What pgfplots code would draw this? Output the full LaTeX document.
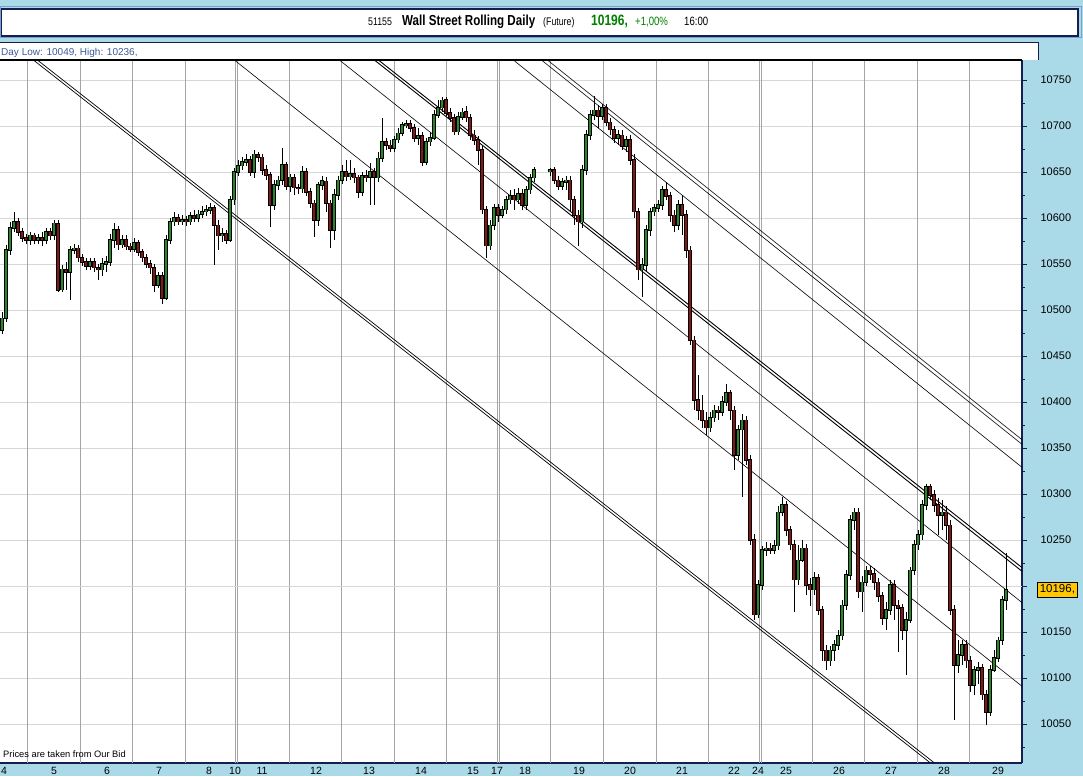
\documentclass[border=0pt]{standalone}
\usepackage{fontspec}
\setmainfont{Liberation Sans}
\newfontfamily\narrow[FakeStretch=0.8]{Liberation Sans}
\usepackage{pgfplots}
\usepackage{pgfplotstable}
\pgfplotsset{compat=1.18}

\definecolor{bgblue}{RGB}{170,218,232}
\definecolor{navy}{RGB}{20,30,80}
\definecolor{frameblue}{RGB}{120,160,200}
\definecolor{upgreen}{RGB}{40,135,40}
\definecolor{dnred}{RGB}{135,22,22}
\definecolor{gridv}{RGB}{165,165,165}
\definecolor{gridh}{RGB}{215,215,215}
\definecolor{pricegreen}{RGB}{0,128,0}
\definecolor{boxorange}{RGB}{255,200,0}
\definecolor{daylow}{RGB}{60,90,150}

% x = position along the time axis (px), o h l c = open high low close
\pgfplotstableread{
x o h l c
2 10478 10498 10474 10491
6 10491 10571 10487 10565
10 10565 10596 10560 10589
14 10589 10607 10585 10596
30 10576 10585 10571 10581
38 10576 10583 10572 10578
46 10576 10589 10572 10585
54 10581 10598 10576 10594
62 10522 10549 10520 10544
70 10541 10570 10511 10565
74 10565 10572 10561 10567
90 10548 10557 10544 10552
102 10544 10557 10537 10550
106 10550 10559 10541 10552
110 10552 10583 10548 10576
114 10576 10595 10567 10587
122 10571 10582 10567 10576
134 10566 10578 10563 10573
158 10527 10541 10524 10537
166 10513 10581 10511 10576
170 10576 10600 10572 10596
174 10596 10607 10591 10600
182 10596 10603 10592 10598
190 10596 10607 10592 10602
198 10600 10609 10596 10604
202 10604 10613 10600 10607
206 10607 10614 10602 10609
210 10609 10616 10604 10611
222 10581 10589 10574 10583
230 10576 10624 10574 10620
234 10620 10654 10614 10650
238 10650 10663 10646 10657
242 10657 10666 10652 10661
246 10661 10669 10657 10663
254 10650 10674 10644 10669
274 10614 10641 10609 10636
278 10636 10646 10631 10641
282 10641 10676 10636 10658
290 10635 10648 10628 10644
302 10632 10657 10627 10650
318 10598 10639 10591 10636
322 10636 10646 10631 10640
334 10587 10631 10576 10625
338 10625 10646 10620 10641
342 10641 10658 10637 10650
350 10645 10663 10641 10648
362 10628 10650 10624 10646
370 10644 10660 10614 10650
378 10644 10672 10639 10665
382 10665 10709 10661 10683
394 10676 10689 10672 10685
398 10685 10698 10682 10692
402 10692 10704 10689 10701
406 10701 10707 10698 10702
418 10687 10698 10679 10689
426 10661 10687 10658 10683
430 10683 10694 10678 10687
434 10687 10717 10685 10712
438 10712 10728 10709 10720
442 10720 10732 10715 10728
458 10694 10715 10690 10710
462 10710 10720 10707 10715
490 10570 10598 10565 10592
494 10592 10615 10587 10611
502 10603 10613 10600 10609
506 10609 10624 10604 10620
510 10620 10631 10615 10624
518 10620 10633 10615 10626
526 10614 10635 10609 10631
530 10631 10648 10626 10644
534 10644 10655 10639 10652
550 10651 10654 10646 10652
562 10635 10644 10631 10639
566 10639 10646 10631 10641
582 10596 10658 10589 10652
586 10652 10696 10647 10690
590 10690 10717 10685 10712
594 10712 10733 10707 10717
602 10711 10724 10707 10720
618 10687 10696 10679 10690
626 10678 10689 10672 10685
642 10544 10557 10514 10549
646 10549 10592 10541 10587
650 10587 10611 10581 10607
654 10607 10615 10602 10611
658 10611 10620 10607 10614
662 10614 10635 10609 10631
678 10592 10620 10587 10614
710 10372 10389 10367 10383
714 10383 10397 10378 10391
722 10389 10407 10385 10400
726 10400 10420 10396 10410
738 10342 10375 10337 10370
742 10370 10387 10297 10380
758 10169 10207 10165 10201
762 10201 10244 10196 10239
766 10239 10248 10233 10241
774 10239 10250 10235 10244
778 10244 10287 10239 10280
782 10280 10297 10276 10288
798 10207 10245 10201 10228
802 10228 10250 10226 10241
814 10196 10215 10190 10209
830 10119 10135 10113 10130
834 10130 10141 10119 10136
838 10136 10152 10130 10146
842 10146 10185 10141 10179
846 10179 10217 10174 10212
850 10212 10277 10207 10272
854 10272 10285 10261 10280
862 10194 10211 10172 10204
866 10204 10222 10200 10217
886 10165 10183 10152 10174
890 10174 10207 10169 10201
906 10152 10172 10103 10163
910 10163 10221 10160 10217
914 10217 10250 10212 10245
918 10245 10261 10239 10256
922 10256 10293 10250 10288
926 10288 10311 10283 10308
942 10277 10293 10261 10280
958 10114 10141 10106 10125
962 10125 10141 10114 10136
974 10092 10113 10082 10109
978 10109 10117 10093 10111
990 10063 10114 10059 10109
994 10109 10130 10106 10122
998 10122 10145 10117 10141
1002 10141 10189 10136 10185
1006 10185 10236 10174 10196
}\upcandles

\pgfplotstableread{
x o h l c
18 10596 10600 10581 10585
22 10585 10589 10574 10578
26 10578 10583 10572 10576
34 10581 10584 10572 10576
42 10578 10585 10570 10576
50 10585 10589 10576 10581
58 10594 10598 10519 10522
66 10544 10552 10522 10541
78 10567 10571 10552 10557
82 10557 10561 10548 10552
86 10552 10557 10544 10548
94 10552 10557 10541 10546
98 10546 10550 10533 10544
118 10587 10591 10565 10571
126 10576 10581 10565 10569
130 10569 10573 10563 10566
138 10573 10576 10559 10563
142 10563 10566 10552 10557
146 10557 10561 10546 10550
150 10550 10554 10539 10546
154 10546 10550 10520 10527
162 10537 10541 10507 10513
178 10600 10604 10592 10596
186 10598 10602 10591 10596
194 10602 10609 10596 10600
214 10611 10614 10549 10592
218 10592 10598 10565 10581
226 10583 10587 10572 10576
250 10663 10667 10646 10650
258 10669 10672 10661 10666
262 10666 10670 10647 10652
266 10652 10658 10641 10647
270 10647 10650 10590 10614
286 10658 10661 10631 10635
294 10644 10648 10625 10633
298 10633 10637 10626 10632
306 10650 10654 10624 10628
310 10628 10633 10611 10616
314 10616 10620 10579 10598
326 10640 10644 10607 10616
330 10616 10620 10567 10587
346 10650 10663 10640 10645
354 10648 10654 10638 10644
358 10644 10647 10622 10628
366 10646 10652 10639 10644
374 10650 10654 10614 10644
386 10683 10687 10674 10679
390 10679 10685 10672 10676
410 10702 10707 10694 10698
414 10698 10702 10683 10687
422 10689 10694 10657 10661
446 10728 10732 10711 10714
450 10714 10720 10704 10709
454 10709 10713 10690 10694
466 10715 10722 10704 10709
470 10709 10713 10685 10690
474 10690 10696 10679 10685
478 10685 10689 10658 10674
482 10674 10678 10604 10609
486 10609 10613 10557 10570
498 10611 10615 10596 10603
514 10624 10631 10609 10620
522 10626 10631 10609 10614
554 10652 10655 10637 10641
558 10641 10646 10631 10635
570 10641 10646 10607 10620
574 10620 10624 10592 10603
578 10603 10609 10569 10596
598 10717 10723 10698 10711
606 10720 10724 10700 10704
610 10704 10709 10690 10696
614 10696 10700 10682 10687
622 10690 10696 10674 10678
630 10685 10690 10658 10663
634 10663 10670 10600 10607
638 10607 10611 10533 10544
666 10631 10639 10620 10624
670 10624 10628 10596 10603
674 10603 10609 10585 10592
682 10614 10625 10582 10603
686 10603 10609 10557 10565
690 10565 10570 10462 10467
694 10467 10472 10391 10402
698 10402 10429 10380 10391
702 10391 10408 10372 10380
706 10380 10389 10364 10372
718 10391 10396 10380 10389
730 10410 10413 10380 10391
734 10391 10396 10326 10342
746 10380 10385 10332 10337
750 10337 10342 10245 10250
754 10250 10256 10163 10169
770 10241 10247 10235 10239
786 10288 10293 10254 10261
790 10261 10265 10239 10245
794 10245 10250 10172 10207
806 10241 10246 10190 10201
810 10201 10209 10178 10196
818 10209 10213 10169 10174
822 10174 10178 10119 10130
826 10130 10136 10109 10119
858 10280 10285 10187 10194
870 10217 10222 10207 10213
874 10213 10220 10196 10204
878 10204 10209 10183 10189
882 10189 10194 10158 10165
894 10201 10207 10163 10179
898 10179 10185 10128 10176
902 10176 10180 10141 10152
930 10308 10311 10293 10299
934 10299 10304 10280 10288
938 10288 10296 10256 10277
946 10280 10287 10250 10266
950 10266 10272 10169 10174
954 10174 10179 10054 10114
966 10136 10141 10111 10119
970 10119 10124 10085 10092
982 10111 10115 10076 10082
986 10082 10087 10049 10063
}\downcandles

\pgfplotsset{
  wick/.style={draw=none, mark=none, forget plot,
    error bars/.cd, y dir=both, y explicit, error mark=none,
    error bar style={draw=black, line width=0.8pt}},
  body/.style 2 args={draw=none, mark=none, forget plot,
    error bars/.cd, y dir=both, y explicit, error mark=none,
    error bar style={draw=#1, line width=#2}},
}

\begin{document}
\begin{tikzpicture}[x=1pt,y=1pt]
\path[use as bounding box] (0,0) rectangle (1083,776);
\clip (0,0) rectangle (1083,776);
\fill[bgblue] (0,0) rectangle (1083,776);

% title bar
\draw[frameblue, line width=1pt] (0.5,738) rectangle (1081,769);
\draw[navy, line width=1.5pt, fill=white] (1.5,740) rectangle (1078,767);
\node[anchor=base west, inner sep=0, font=\narrow\fontsize{11}{12}\selectfont] at (368,750) {51155};
\node[anchor=base west, inner sep=0, font=\narrow\bfseries\fontsize{14.5}{16}\selectfont] at (402,750) {Wall Street Rolling Daily};
\node[anchor=base west, inner sep=0, font=\narrow\fontsize{11}{12}\selectfont] at (543,750) {(Future)};
\node[anchor=base west, inner sep=0, text=pricegreen, font=\narrow\bfseries\fontsize{15}{16}\selectfont] at (591,750) {10196,};
\node[anchor=base west, inner sep=0, text=pricegreen, font=\narrow\fontsize{12}{13}\selectfont] at (635,750) {+1,00\%};
\node[anchor=base west, inner sep=0, font=\narrow\fontsize{12}{13}\selectfont] at (684,750) {16:00};

% header strip
\fill[white] (0,716) rectangle (1038,733);
\draw[navy, line width=1pt] (0,733) -- (1038,733) -- (1038,716);
\node[anchor=base west, inner sep=0, text=daylow, font=\fontsize{10}{12}\selectfont] at (1,720) {Day Low: 10049, High: 10236,};

\begin{axis}[
  at={(0pt,13pt)}, anchor=south west,
  width=1022pt, height=703pt, scale only axis,
  xmin=0, xmax=1022, ymin=10007.6, ymax=10771.7,
  axis background/.style={fill=white},
  axis x line*=bottom, axis y line*=right,
  axis line style={navy, line width=1.5pt},
  clip mode=individual,
  xtick={4,54,107,159,209,235,262,316,369,421,473,497,525,579,630,682,734,758,786,839,891,944,998},
  xticklabels={4,5,6,7,8,10,11,12,13,14,15,17,18,19,20,21,22,24,25,26,27,28,29},
  x tick style={draw=none},
  xticklabel style={font=\fontsize{10.5}{12}\selectfont, anchor=base, yshift=-6pt},
  extra x ticks={27,80,132,185,235,237,289,341,394,446,497,499,550,603,656,708,759,761,812,864,917,969},
  extra x tick labels={},
  extra x tick style={grid=major, major grid style={gridv, line width=0.7pt}, tick style={draw=none}},
  ytick={10050,10100,10150,10250,10300,10350,10400,10450,10500,10550,10600,10650,10700,10750},
  extra y ticks={10200},
  extra y tick labels={},
  extra y tick style={grid=major, major grid style={gridh, line width=0.7pt}},
  minor ytick={10025,10075,...,10775},
  scaled y ticks=false,
  ymajorgrids, major grid style={gridh, line width=0.7pt},
  ytick pos=right, tick align=outside,
  major tick length=5pt, minor tick length=3pt,
  y tick style={navy, line width=0.8pt},
  yticklabel style={font=\fontsize{11}{12}\selectfont, anchor=west, xshift=10pt},
  /pgf/number format/1000 sep={},
  /pgf/number format/assume math mode=true,
]
% trend channel lines
\addplot[black, line width=0.7pt] coordinates {(33,10772) (930,10008)};
\addplot[black, line width=0.7pt] coordinates {(37,10772) (934,10008)};
\addplot[black, line width=0.6pt] coordinates {(234,10772) (1022,10091)};
\addplot[black, line width=0.6pt] coordinates {(339,10772) (1022,10182)};
\addplot[black, line width=0.9pt] coordinates {(374,10772) (1022,10216)};
\addplot[black, line width=0.9pt] coordinates {(378,10772) (1022,10220)};
\addplot[black, line width=0.6pt] coordinates {(513,10772) (1022,10329)};
\addplot[black, line width=0.6pt] coordinates {(541,10772) (1022,10354)};
\addplot[black, line width=0.6pt] coordinates {(547,10772) (1022,10359)};

% wicks
\addplot[wick] table[x=x, y expr={(\thisrow{h}+\thisrow{l})/2}, y error expr={(\thisrow{h}-\thisrow{l})/2}] {\upcandles};
\addplot[wick] table[x=x, y expr={(\thisrow{h}+\thisrow{l})/2}, y error expr={(\thisrow{h}-\thisrow{l})/2}] {\downcandles};
% bodies: black outline then colour
\addplot[body={black}{3.4pt}] table[x=x, y expr={(\thisrow{o}+\thisrow{c})/2}, y error expr={abs(\thisrow{c}-\thisrow{o})/2+0.8}] {\upcandles};
\addplot[body={black}{3.4pt}] table[x=x, y expr={(\thisrow{o}+\thisrow{c})/2}, y error expr={abs(\thisrow{c}-\thisrow{o})/2+0.8}] {\downcandles};
\addplot[body={upgreen}{1.8pt}] table[x=x, y expr={(\thisrow{o}+\thisrow{c})/2}, y error expr={abs(\thisrow{c}-\thisrow{o})/2}] {\upcandles};
\addplot[body={dnred}{1.8pt}] table[x=x, y expr={(\thisrow{o}+\thisrow{c})/2}, y error expr={abs(\thisrow{c}-\thisrow{o})/2}] {\downcandles};

\node[draw=black, fill=boxorange, anchor=west, inner sep=2.5pt, line width=0.6pt,
  font=\fontsize{11.5}{12}\selectfont] at (axis cs:1022,10196) [xshift=15pt] {10196,};
\end{axis}

\draw[black, line width=1.2pt] (0,716) -- (1022,716);
\node[anchor=base west, inner sep=0, font=\fontsize{9.3}{10}\selectfont] at (3,19) {Prices are taken from Our Bid};
\end{tikzpicture}
\end{document}
